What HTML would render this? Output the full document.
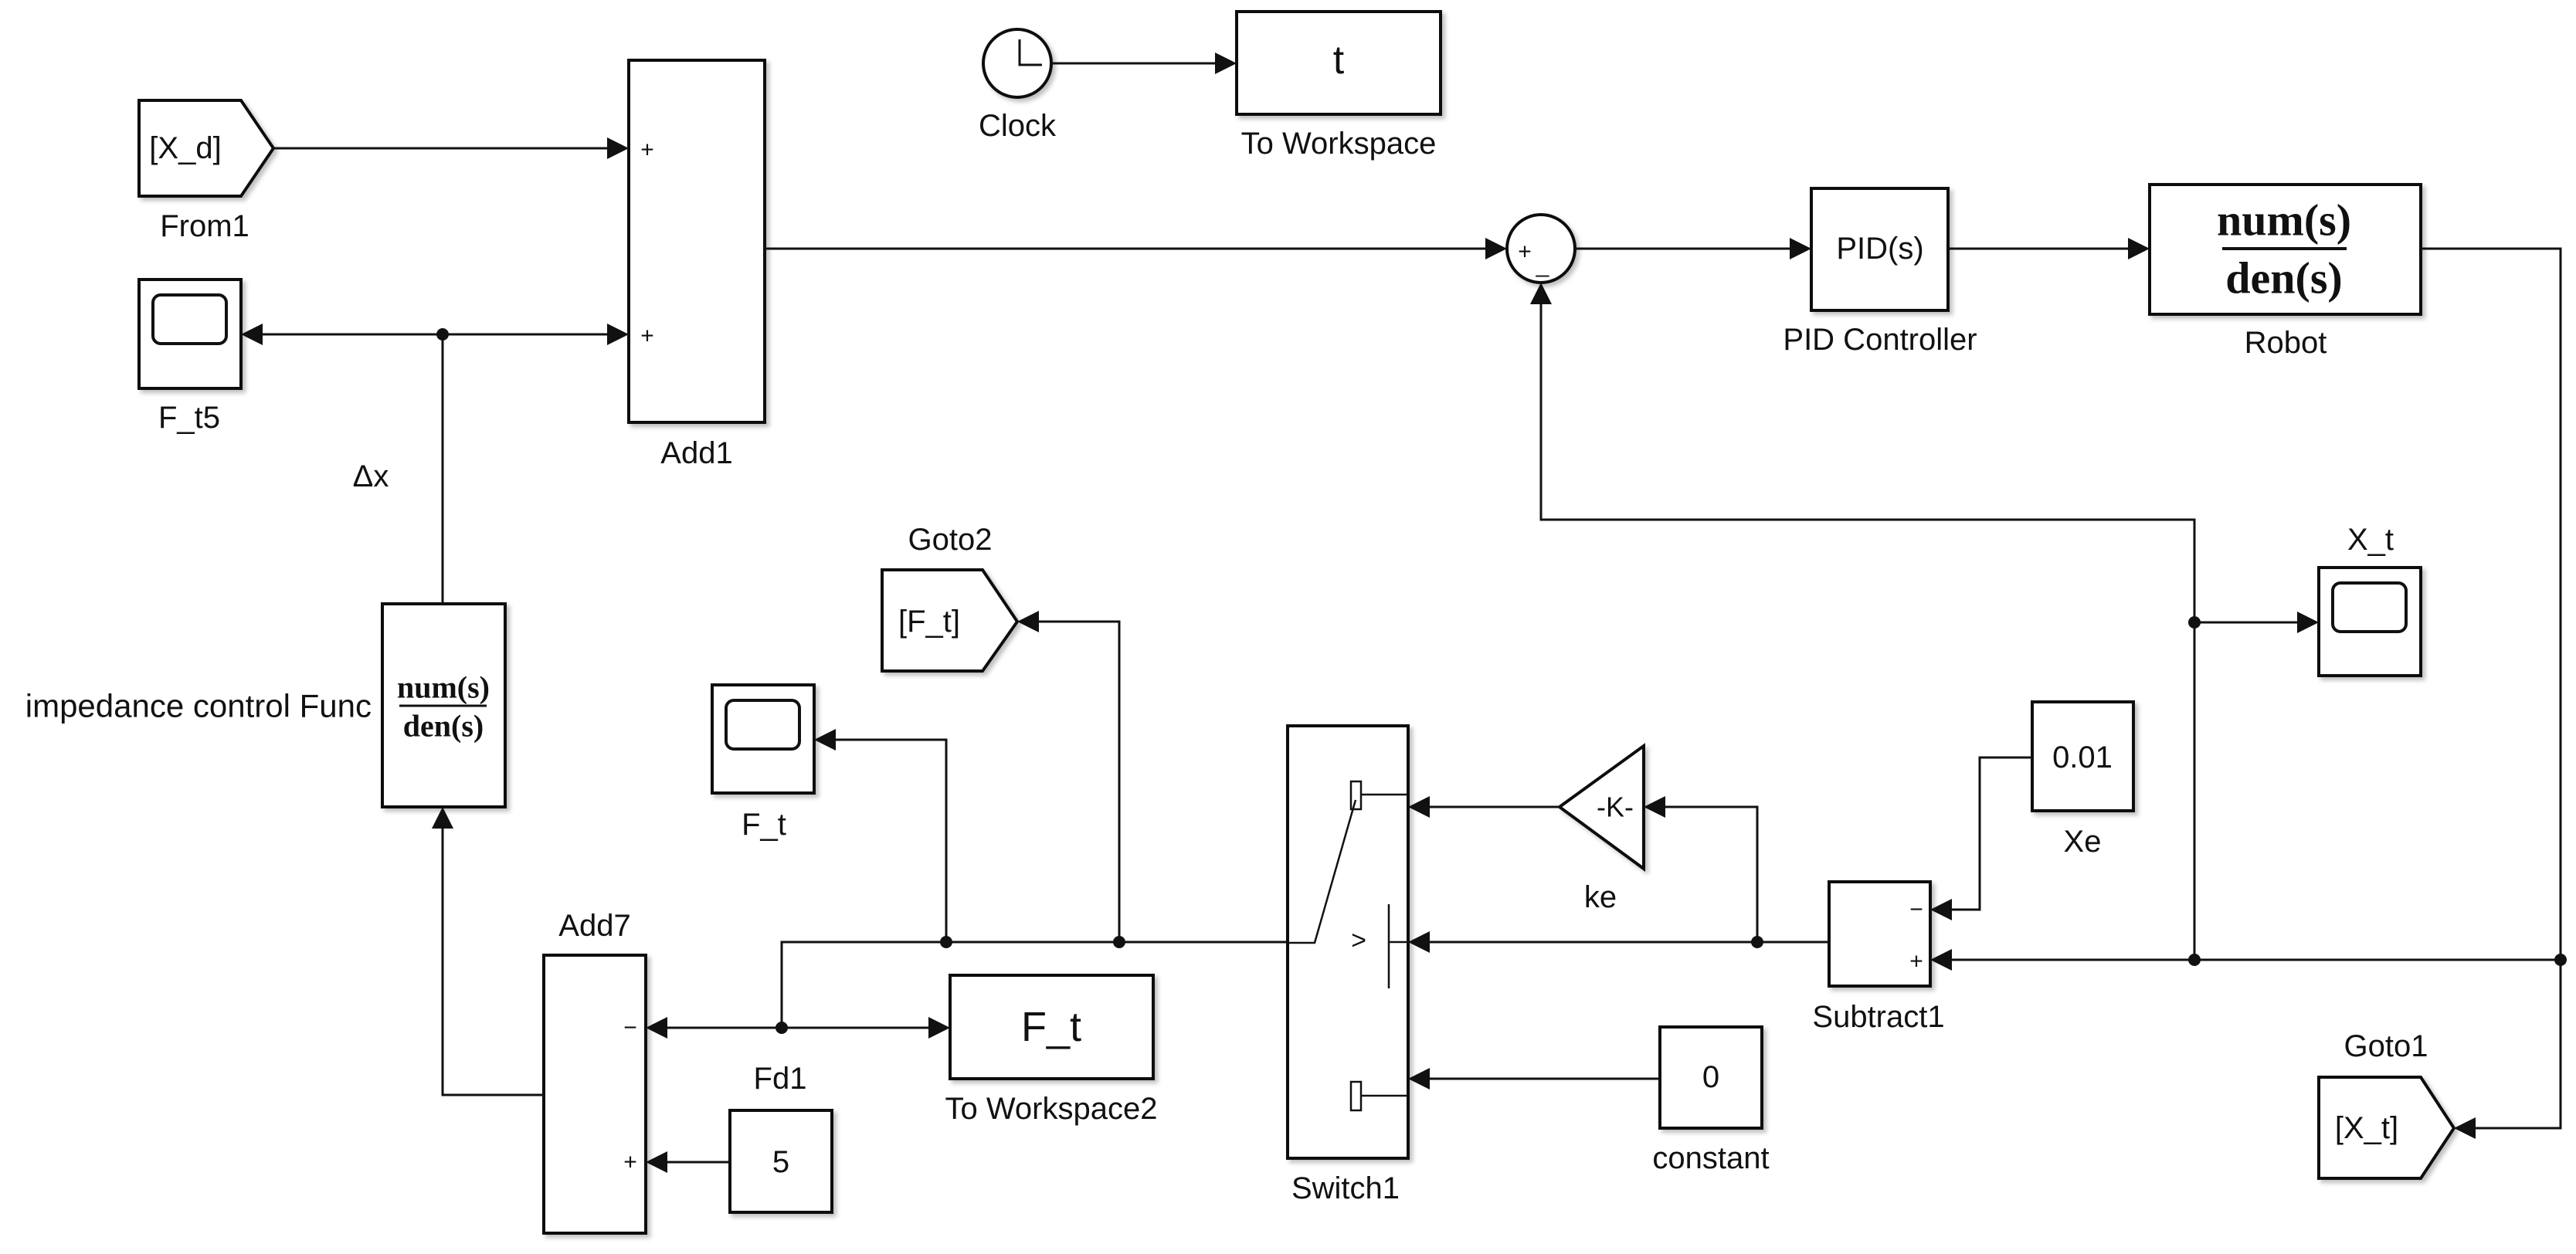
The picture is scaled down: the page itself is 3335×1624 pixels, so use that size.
<!DOCTYPE html>
<html><head><meta charset="utf-8"><style>
html,body{margin:0;padding:0;background:#fff;}
svg{display:block;}
text{font-family:"Liberation Sans",Arial,sans-serif;fill:#111;dominant-baseline:central;text-anchor:middle;}
.s{font-family:"Liberation Serif",serif;}
</style></head><body>
<svg width="3335" height="1624" viewBox="0 0 3335 1624" xmlns="http://www.w3.org/2000/svg">
<defs>
<filter id="sh" x="-5%" y="-5%" width="115%" height="115%"><feDropShadow dx="4" dy="4" stdDeviation="3" flood-color="#000" flood-opacity="0.25"/></filter>
</defs>
<g fill="#fff" stroke="#111" stroke-width="4" filter="url(#sh)">
<polygon points="180,130 312,130 354,192 312,254 180,254"/>
<rect x="180" y="362" width="132" height="141"/>
<rect x="814" y="78" width="176" height="469"/>
<ellipse cx="1317" cy="82" rx="44" ry="44"/>
<rect x="1601" y="15" width="264" height="133"/>
<ellipse cx="1995" cy="322" rx="44" ry="44"/>
<rect x="2345" y="244" width="177" height="158"/>
<rect x="2783" y="239" width="351" height="168"/>
<rect x="3002" y="735" width="132" height="140"/>
<polygon points="1142,738 1272,738 1317,805 1272,869 1142,869"/>
<rect x="495" y="782" width="159" height="263"/>
<rect x="922" y="887" width="132" height="140"/>
<rect x="1667" y="940" width="156" height="560"/>
<polygon points="2019,1045 2128,966 2128,1125"/>
<rect x="2631" y="909" width="131" height="141"/>
<rect x="2368" y="1142" width="131" height="135"/>
<rect x="2149" y="1330" width="132" height="131"/>
<polygon points="3002,1395 3134,1395 3177,1461 3134,1526 3002,1526"/>
<rect x="704" y="1237" width="132" height="360"/>
<rect x="945" y="1438" width="132" height="132"/>
<rect x="1230" y="1263" width="263" height="134"/>
</g>
<g fill="none" stroke="#111" stroke-width="4">
<rect x="198" y="382" width="95" height="63" rx="10"/>
<rect x="940" y="907" width="95" height="63" rx="10"/>
<rect x="3020" y="755" width="95" height="63" rx="10"/>
</g>
<g fill="none" stroke="#111" stroke-width="3">
<polyline points="1320,51 1320,84 1349,84"/>
<line x1="354" y1="192" x2="800" y2="192"/>
<line x1="320" y1="433" x2="800" y2="433"/>
<line x1="573" y1="433" x2="573" y2="782"/>
<line x1="990" y1="322" x2="1940" y2="322"/>
<line x1="2039" y1="322" x2="2330" y2="322"/>
<line x1="2522" y1="322" x2="2770" y2="322"/>
<polyline points="3134,322 3315,322 3315,1461 3190,1461"/>
<line x1="3315" y1="1243" x2="2510" y2="1243"/>
<polyline points="2841,1243 2841,673 1995,673 1995,380"/>
<line x1="2841" y1="806" x2="2990" y2="806"/>
<polyline points="2631,981 2563,981 2563,1178 2510,1178"/>
<line x1="2368" y1="1220" x2="1835" y2="1220"/>
<polyline points="2275,1220 2275,1045 2140,1045"/>
<line x1="2019" y1="1045" x2="1835" y2="1045"/>
<line x1="2149" y1="1397" x2="1835" y2="1397"/>
<polyline points="1667,1220 1012,1220 1012,1331"/>
<polyline points="1449,1220 1449,805 1330,805"/>
<polyline points="1225,1220 1225,958 1065,958"/>
<line x1="848" y1="1331" x2="1218" y2="1331"/>
<line x1="945" y1="1505" x2="848" y2="1505"/>
<polyline points="704,1418 573,1418 573,1058"/>
<line x1="1361" y1="82" x2="1590" y2="82"/>
<rect x="1749" y="1012" width="13" height="36" stroke-width="2.5"/>
<line x1="1762" y1="1029" x2="1823" y2="1029" stroke-width="2.5"/>
<polyline points="1755,1036 1702,1221 1669,1221" stroke-width="2.5"/>
<line x1="1798" y1="1171" x2="1798" y2="1280" stroke-width="2.5"/>
<line x1="1798" y1="1220" x2="1823" y2="1220" stroke-width="2.5"/>
<rect x="1749" y="1401" width="13" height="37" stroke-width="2.5"/>
<line x1="1762" y1="1419" x2="1823" y2="1419" stroke-width="2.5"/>
<line x1="2877" y1="322" x2="3038" y2="322" stroke-width="4"/>
<line x1="517" y1="914" x2="630" y2="914" stroke-width="3"/>
</g>
<g fill="#111">
<polygon points="786,178 814,192 786,206"/>
<polygon points="786,419 814,433 786,447"/>
<polygon points="1923,308 1951,322 1923,336"/>
<polygon points="2317,308 2345,322 2317,336"/>
<polygon points="2755,308 2783,322 2755,336"/>
<polygon points="2974,792 3002,806 2974,820"/>
<polygon points="1573,68 1601,82 1573,96"/>
<polygon points="1202,1317 1230,1331 1202,1345"/>
<polygon points="340,419 312,433 340,447"/>
<polygon points="3205,1447 3177,1461 3205,1475"/>
<polygon points="2527,1229 2499,1243 2527,1257"/>
<polygon points="2527,1164 2499,1178 2527,1192"/>
<polygon points="1851,1206 1823,1220 1851,1234"/>
<polygon points="1851,1031 1823,1045 1851,1059"/>
<polygon points="1851,1383 1823,1397 1851,1411"/>
<polygon points="2156,1031 2128,1045 2156,1059"/>
<polygon points="1345,791 1317,805 1345,819"/>
<polygon points="1082,944 1054,958 1082,972"/>
<polygon points="864,1317 836,1331 864,1345"/>
<polygon points="864,1491 836,1505 864,1519"/>
<polygon points="1981,394 1995,366 2009,394"/>
<polygon points="559,1073 573,1045 587,1073"/>
<circle cx="573" cy="433" r="8"/>
<circle cx="3315" cy="1243" r="8"/>
<circle cx="2841" cy="1243" r="8"/>
<circle cx="2841" cy="806" r="8"/>
<circle cx="2275" cy="1220" r="8"/>
<circle cx="1449" cy="1220" r="8"/>
<circle cx="1225" cy="1220" r="8"/>
<circle cx="1012" cy="1331" r="8"/>
</g>
<g font-size="40">
<text x="240" y="192">[X_d]</text>
<text x="265" y="293">From1</text>
<text x="245" y="541">F_t5</text>
<text x="902" y="587">Add1</text>
<text x="480" y="617">Δx</text>
<text x="1317" y="163">Clock</text>
<text x="1733" y="186">To Workspace</text>
<text x="1733" y="78" font-size="52">t</text>
<text x="2434" y="322">PID(s)</text>
<text x="2434" y="440">PID Controller</text>
<text x="2959" y="444">Robot</text>
<text x="1230" y="699">Goto2</text>
<text x="1203" y="805">[F_t]</text>
<text x="3069" y="699">X_t</text>
<text x="989" y="1068">F_t</text>
<text x="481" y="914" font-size="42" style="text-anchor:end">impedance control Func</text>
<text x="770" y="1199">Add7</text>
<text x="1010" y="1397">Fd1</text>
<text x="1011" y="1505">5</text>
<text x="1361" y="1436">To Workspace2</text>
<text x="1361" y="1330" font-size="54">F_t</text>
<text x="1742" y="1539">Switch1</text>
<text x="2072" y="1162">ke</text>
<text x="2091" y="1045" font-size="36">-K-</text>
<text x="2696" y="1090">Xe</text>
<text x="2696" y="981">0.01</text>
<text x="2432" y="1317">Subtract1</text>
<text x="2215" y="1395">0</text>
<text x="2215" y="1500">constant</text>
<text x="3089" y="1355">Goto1</text>
<text x="3064" y="1461">[X_t]</text>
<text x="1759" y="1218" font-size="34">&gt;</text>
</g>
<g font-size="30">
<text x="838" y="194">+</text>
<text x="838" y="435">+</text>
<text x="1974" y="326">+</text>
<text x="1997" y="343">_</text>
<text x="816" y="1331">−</text>
<text x="816" y="1505">+</text>
<text x="2481" y="1178">−</text>
<text x="2481" y="1245">+</text>
</g>
<g font-weight="bold">
<text class="s" x="2957" y="285" font-size="58">num(s)</text>
<text class="s" x="2957" y="360" font-size="58">den(s)</text>
<text class="s" x="574" y="890" font-size="40">num(s)</text>
<text class="s" x="574" y="940" font-size="40">den(s)</text>
</g>
</svg>
</body></html>
